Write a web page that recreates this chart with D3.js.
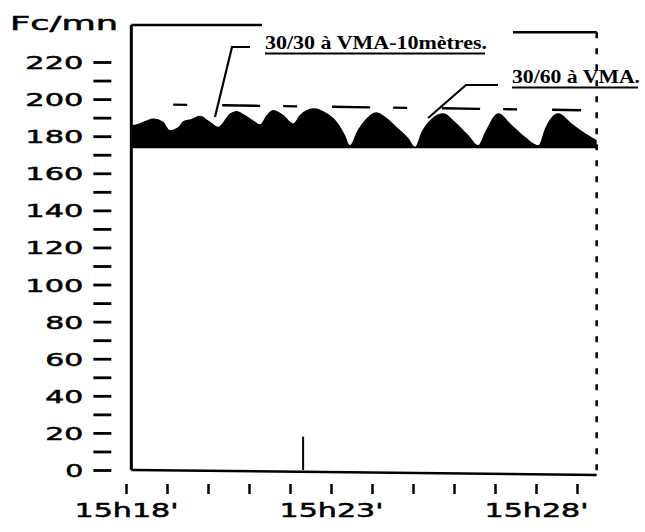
<!DOCTYPE html>
<html>
<head>
<meta charset="utf-8">
<script src="https://cdn.jsdelivr.net/npm/d3@7"></script>
<style>
    body { margin: 0; background: #fff; }
    svg { display: block; }
</style>
</head>
<body>
<div id="chart"></div>
<script>
// minutes after 15h18 and heart rate (top of the black band)
const minutes = [0.13, 0.26, 0.42, 0.67, 0.91, 1.07, 1.28, 1.40, 1.60, 1.80, 2.05, 2.25, 2.54, 2.70, 2.90,
    3.15, 3.27, 3.43, 3.59, 3.84, 4.08, 4.24, 4.57, 4.90, 5.14, 5.34, 5.46, 5.63, 5.83, 6.11, 6.32,
    6.64, 6.89, 7.05, 7.21, 7.46, 7.74, 8.02, 8.35, 8.59, 8.76, 9.08, 9.41, 9.73, 10.06, 10.22,
    10.54, 10.87, 11.20, 11.48];
const fcHaute = [186.0, 186.4, 187.8, 189.6, 187.8, 183.3, 185.1, 188.2, 189.3, 191.0, 187.8, 185.1, 192.3, 193.6, 191.4,
    187.8, 186.4, 191.4, 194.1, 191.4, 186.9, 191.4, 195.0, 192.3, 187.8, 180.6, 175.2, 182.4, 188.7, 192.9, 190.5,
    184.2, 178.9, 174.3, 182.4, 189.6, 192.3, 187.8, 180.6, 175.2, 182.4, 192.3, 186.0, 179.7, 175.2, 184.2,
    192.3, 186.9, 181.6, 177.9];
const fcPlancher = 173.5;

// dashed reference line
const refMinutes = [1.15, 11.1];
const refFc = [197, 194];

// vertical marker
const repereMinute = 4.32;
const repereFc = 18;

const yTicks = d3.range(0, 230, 10);
const xTicks = d3.range(0, 12, 1);
const xLabels = { 0: "15h18'", 5: "15h23'", 10: "15h28'" };

const annotations = [
    { text: '30/30 à VMA-10mètres.', minute: 2.17, fc: 190.4 },
    { text: '30/60 à VMA.', minute: 7.37, fc: 189.8 }
];

const width = 645;
const height = 532;

const svg = d3.select('#chart')
    .append('svg')
    .attr('width', width)
    .attr('height', height);

const x = d3.scaleLinear().domain([0, 11.5]).range([126, 597.5]);
const y = d3.scaleLinear().domain([0, 220]).range([470, 62]);

const tStart = 0.13;
const tEnd = 11.48;
const axisX = x(tStart);
const rightX = x(tEnd);

const sans = 'DejaVu Sans, Verdana, sans-serif';

// black band
const area = d3.area()
    .x((d, i) => x(minutes[i]))
    .y0(y(fcPlancher))
    .y1(d => y(d))
    .curve(d3.curveMonotoneX);

svg.append('path')
    .datum(fcHaute)
    .attr('d', area)
    .attr('fill', '#000');

// dashed reference line
svg.append('line')
    .attr('x1', x(refMinutes[0]))
    .attr('y1', y(refFc[0]))
    .attr('x2', x(refMinutes[1]))
    .attr('y2', y(refFc[1]))
    .attr('stroke', '#000')
    .attr('stroke-width', 2.4)
    .attr('stroke-dasharray', '14,35,38,23');

// frame: left solid, top pieces, right dashed
svg.append('line')
    .attr('x1', axisX).attr('y1', y(240))
    .attr('x2', axisX).attr('y2', y(0))
    .attr('stroke', '#000')
    .attr('stroke-width', 3);

svg.append('line')
    .attr('x1', axisX).attr('y1', y(240))
    .attr('x2', 262).attr('y2', y(240))
    .attr('stroke', '#000')
    .attr('stroke-width', 2.5);

svg.append('line')
    .attr('x1', 513).attr('y1', y(236))
    .attr('x2', rightX).attr('y2', y(236))
    .attr('stroke', '#000')
    .attr('stroke-width', 2.5);

svg.append('line')
    .attr('x1', rightX).attr('y1', y(236))
    .attr('x2', rightX).attr('y2', y(0) + 4)
    .attr('stroke', '#000')
    .attr('stroke-width', 2.5)
    .attr('stroke-dasharray', '6,10');

// bottom line
svg.append('line')
    .attr('x1', axisX).attr('y1', y(0))
    .attr('x2', rightX).attr('y2', y(0) + 5)
    .attr('stroke', '#000')
    .attr('stroke-width', 2.5);

// vertical marker
svg.append('line')
    .attr('x1', x(repereMinute)).attr('y1', y(repereFc))
    .attr('x2', x(repereMinute)).attr('y2', y(0))
    .attr('stroke', '#000')
    .attr('stroke-width', 2);

// y axis: detached dashes every 10, labels every 20
const yAxis = svg.append('g')
    .attr('transform', `translate(${axisX},0)`)
    .call(d3.axisLeft(y)
        .tickValues(yTicks)
        .tickSize(0)
        .tickFormat(d => d % 20 === 0 ? d : ''));

yAxis.select('.domain').remove();

yAxis.selectAll('line')
    .attr('x1', -38)
    .attr('x2', -20)
    .attr('stroke', '#000')
    .attr('stroke-width', 2.8);

yAxis.selectAll('text')
    .attr('x', -48)
    .attr('dy', '0.36em')
    .style('font-family', sans)
    .style('font-size', '18px')
    .style('fill', '#000')
    .style('stroke', '#000')
    .style('stroke-width', 0.5)
    .each(function (d) {
        if (d % 20 === 0) {
            d3.select(this)
                .attr('textLength', String(d).length * 20 - 2)
                .attr('lengthAdjust', 'spacingAndGlyphs');
        }
    });

// x axis
const xAxis = svg.append('g')
    .attr('transform', `translate(0,${y(0)})`)
    .call(d3.axisBottom(x)
        .tickValues(xTicks)
        .tickSize(0)
        .tickFormat(d => xLabels[d] || ''));

xAxis.select('.domain').remove();

xAxis.selectAll('line')
    .attr('y1', 14)
    .attr('y2', 24)
    .attr('stroke', '#000')
    .attr('stroke-width', 2.5);

xAxis.selectAll('text')
    .attr('y', 47)
    .attr('dy', 0)
    .style('font-family', sans)
    .style('font-size', '19px')
    .style('fill', '#000')
    .style('stroke', '#000')
    .style('stroke-width', 0.5)
    .each(function (d) {
        if (xLabels[d]) {
            d3.select(this)
                .attr('textLength', 104)
                .attr('lengthAdjust', 'spacingAndGlyphs');
        }
    });

// axis title
svg.append('text')
    .attr('x', 10)
    .attr('y', 30)
    .attr('textLength', 108)
    .attr('lengthAdjust', 'spacingAndGlyphs')
    .style('font-family', sans)
    .style('font-size', '19px')
    .style('fill', '#000')
    .style('stroke', '#000')
    .style('stroke-width', 0.5)
    .text('Fc/mn');

// callouts
const callouts = [
    { tx: 265, ty: 49, len: 222, elbowX: 232, elbowY: 47, barEnd: 250 },
    { tx: 512, ty: 83, len: 128, elbowX: 466, elbowY: 85, barEnd: 498 }
];

annotations.forEach((a, i) => {
    const c = callouts[i];
    svg.append('text')
        .attr('x', c.tx)
        .attr('y', c.ty)
        .attr('textLength', c.len)
        .attr('lengthAdjust', 'spacingAndGlyphs')
        .style('font-family', 'Liberation Serif, Times New Roman, serif')
        .style('font-weight', 'bold')
        .style('font-size', '18px')
        .style('fill', '#000')
        .text(a.text);

    svg.append('line')
        .attr('x1', c.tx).attr('y1', c.ty + 4.5)
        .attr('x2', c.tx + c.len - 2).attr('y2', c.ty + 4.5)
        .attr('stroke', '#000')
        .attr('stroke-width', 1.8);

    svg.append('path')
        .attr('d', `M${c.barEnd},${c.elbowY} H${c.elbowX} L${x(a.minute)},${y(a.fc)}`)
        .attr('fill', 'none')
        .attr('stroke', '#000')
        .attr('stroke-width', 2.2);
});
</script>
</body>
</html>
